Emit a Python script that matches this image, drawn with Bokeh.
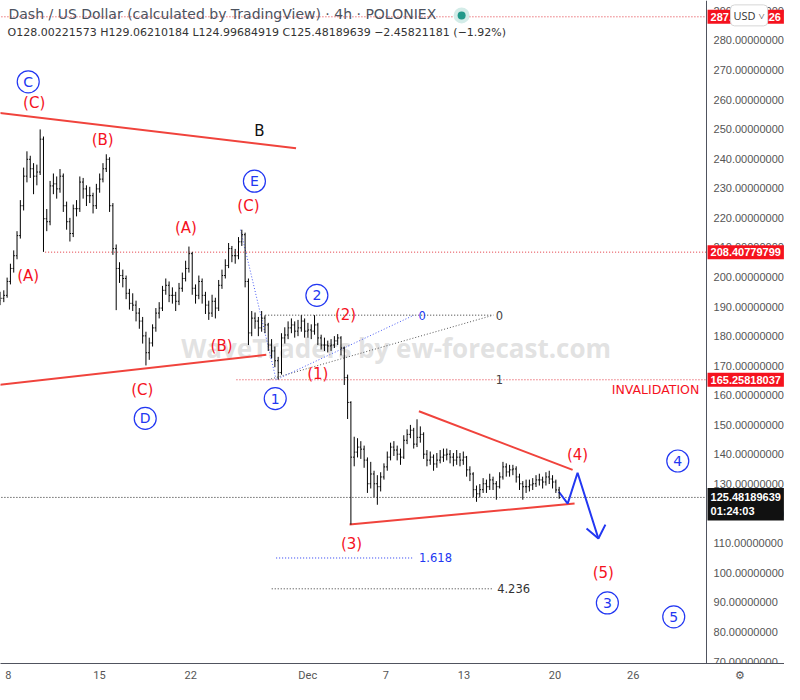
from bokeh.plotting import figure
from bokeh.models import Range1d, FixedTicker, PrintfTickFormatter, Label, ColumnDataSource
from bokeh.embed import file_html
from bokeh.resources import INLINE

# ---------------- data (DASH/USD, 4h, Poloniex) ----------------
first_open = 192.0
closes = [192.8, 193.8, 198.5, 202.9, 207.2, 214.0, 224.1, 234.1, 239.8, 236.6,
          234.1, 235.5, 246.6, 219.7, 218.7, 230.8, 231.5, 229.8, 234.1, 224.1,
          218.7, 214.7, 223.1, 223.1, 232.1, 229.8, 227.5, 227.5, 224.1, 229.8,
          233.1, 236.6, 239.8, 224.1, 209.6, 202.9, 200.5, 199.5, 194.5, 191.1,
          190.5, 187.8, 185.1, 180.1, 174.4, 177.7, 182.8, 187.8, 189.5, 195.5,
          197.2, 193.8, 193.8, 191.8, 196.2, 199.5, 202.9, 207.9, 196.2, 193.8,
          198.5, 193.8, 190.5, 187.8, 191.8, 189.5, 197.2, 200.5, 203.9, 209.6,
          207.2, 207.2, 211.9, 214.3, 198.5, 181.1, 186.1, 185.1, 182.8, 186.1,
          183.8, 177.0, 175.0, 171.7, 167.7, 179.4, 180.4, 182.8, 183.8, 181.7,
          182.8, 185.1, 181.7, 182.1, 181.7, 183.8, 179.4, 177.0, 177.0, 176.7,
          177.0, 178.4, 179.4, 176.0, 166.0, 157.6, 139.1, 140.8, 142.5, 141.8,
          138.1, 130.1, 133.4, 130.1, 129.1, 132.4, 135.8, 139.1, 142.5, 141.5,
          140.1, 139.1, 144.8, 146.8, 148.2, 143.5, 145.8, 146.8, 140.1, 138.1,
          139.1, 136.8, 138.1, 139.1, 139.8, 140.1, 139.1, 138.1, 139.1, 138.1,
          139.1, 134.8, 133.4, 128.1, 126.7, 128.1, 130.1, 129.1, 131.4, 130.1,
          129.1, 132.4, 135.8, 134.1, 134.8, 135.1, 132.4, 130.1, 129.1, 129.1,
          129.7, 130.1, 131.4, 131.4, 130.7, 132.4, 131.7, 130.7, 128.00221573, 125.48189639]
highs = [195.0, 195.5, 199.8, 204.5, 209.0, 215.5, 226.0, 237.0, 242.5, 241.0,
         238.5, 238.0, 249.9, 247.5, 223.0, 232.5, 235.0, 234.0, 236.5, 235.0,
         225.5, 220.0, 224.5, 226.0, 234.0, 233.5, 231.0, 230.5, 228.5, 231.5,
         235.0, 238.5, 241.5, 240.5, 225.0, 211.0, 205.0, 202.5, 200.5, 196.0,
         194.5, 192.0, 189.5, 186.5, 181.5, 179.5, 184.0, 189.5, 191.5, 197.0,
         199.5, 198.5, 196.5, 195.0, 198.0, 201.5, 205.5, 210.3, 208.5, 197.5,
         200.5, 199.5, 195.0, 192.0, 194.0, 193.0, 199.0, 202.5, 206.0, 211.5,
         210.5, 209.5, 213.5, 216.0, 215.0, 199.5, 188.5, 188.0, 186.5, 188.5,
         187.0, 184.5, 179.0, 176.5, 173.0, 181.0, 183.0, 185.0, 186.0, 185.0,
         185.5, 187.1, 186.0, 184.5, 184.0, 187.1, 184.5, 180.5, 179.5, 178.5,
         179.0, 180.0, 180.7, 180.0, 176.5, 167.0, 158.0, 146.0, 145.5, 144.5,
         143.0, 139.0, 137.5, 134.5, 133.0, 134.0, 137.0, 141.0, 144.0, 144.5,
         143.0, 142.0, 146.5, 148.5, 150.0, 149.0, 151.9, 149.5, 147.5, 141.5,
         141.0, 140.0, 140.5, 141.5, 142.0, 142.0, 141.5, 140.5, 141.5, 140.5,
         141.0, 139.5, 136.0, 134.0, 129.5, 130.0, 132.0, 131.5, 133.5, 132.5,
         131.0, 134.0, 137.5, 137.0, 136.5, 136.5, 136.0, 133.5, 131.0, 131.5,
         131.5, 132.0, 133.0, 133.5, 132.5, 134.0, 134.5, 133.0, 131.5, 129.06210184]
lows = [190.5, 191.5, 193.0, 197.5, 201.5, 206.0, 213.0, 222.5, 232.0, 233.5,
        228.0, 231.0, 234.5, 208.5, 215.5, 217.5, 228.0, 226.5, 228.5, 222.0,
        216.0, 212.0, 213.5, 220.5, 222.0, 226.5, 224.0, 225.0, 221.5, 223.0,
        228.5, 232.0, 235.5, 222.0, 207.5, 188.8, 198.0, 196.5, 192.5, 189.0,
        188.5, 185.0, 182.5, 177.5, 170.1, 172.0, 176.5, 181.5, 186.0, 188.5,
        194.0, 191.5, 191.0, 188.5, 190.5, 195.0, 198.5, 201.5, 194.0, 191.0,
        192.5, 191.0, 187.5, 185.5, 186.5, 186.0, 188.5, 196.0, 199.5, 203.0,
        205.0, 204.5, 206.0, 210.5, 196.5, 177.0, 180.0, 182.5, 180.0, 181.5,
        181.0, 175.0, 172.5, 169.5, 165.3, 167.0, 177.5, 179.0, 181.0, 179.5,
        180.0, 181.5, 179.5, 179.5, 179.0, 180.5, 177.0, 175.5, 175.0, 174.5,
        175.0, 176.0, 177.0, 173.5, 163.5, 152.0, 116.3, 136.0, 139.0, 138.5,
        135.5, 127.0, 128.5, 125.5, 123.0, 127.5, 131.5, 134.5, 138.0, 139.5,
        138.0, 136.5, 138.5, 143.5, 145.5, 142.0, 142.5, 144.0, 138.5, 136.0,
        136.5, 134.5, 135.5, 137.0, 137.5, 138.0, 137.0, 136.0, 136.5, 136.0,
        136.5, 132.5, 131.0, 125.5, 124.0, 125.5, 127.0, 127.0, 128.0, 128.0,
        124.7, 128.5, 131.5, 132.5, 132.5, 133.0, 130.5, 128.0, 124.7, 127.0,
        127.5, 128.0, 129.0, 129.5, 128.5, 129.5, 130.0, 128.5, 127.0, 124.99684919]

bar_start_day = 7.39     # day-of-November of first bar
bar_step_day = 0.254     # bar spacing in days

price_ticks = [70, 80, 90, 100, 110, 120, 130, 140, 150, 160, 170, 180, 190,
               200, 210, 220, 230, 240, 250, 260, 270, 280, 290]
date_ticks = [8, 15, 22, 31, 37, 43, 50, 56]
date_labels = ["8", "15", "22", "Dec", "7", "13", "20", "26"]

top_level = 287.98
level_208 = 208.40779799
invalidation = 165.25818037
last_price = 125.48189639

# wave pivots used by the fibonacci tools
wave_E_high = 216.0
wave_1_low = 165.26
wave_2_high = 187.1

# ---------------- layout constants ----------------
X0, X1 = 7.39, 67.63        # visible days (incl. price-scale column)
SCALE_X = 61.64             # day where price scale starts
GEAR_X = 64.2
Y0, Y1 = 69.33, 293.49

# ---------------- build ----------------
opens = [first_open] + closes[:-1]
xs = [bar_start_day + i * bar_step_day for i in range(len(closes))]
tw = 0.09
src = ColumnDataSource(dict(x=xs, o=opens, h=highs, l=lows, c=closes,
                            xl=[x - tw for x in xs], xr=[x + tw for x in xs]))

RED_T = "#f5121e"
RED_L = "#f0433c"
BLUE = "#2237f2"
FONT = "DejaVu Sans"

p = figure(width=784, height=684, output_backend="svg", toolbar_location=None,
           x_range=Range1d(X0, X1), y_range=Range1d(Y0, Y1),
           y_axis_location="right", min_border=0)
p.outline_line_color = None
p.xgrid.visible = False
p.ygrid.visible = False
p.background_fill_color = "white"

xa = p.xaxis[0]
xa.ticker = FixedTicker(ticks=date_ticks + [GEAR_X])
overrides = {t: s for t, s in zip(date_ticks, date_labels)}
overrides[GEAR_X] = "\u2699"
xa.major_label_overrides = overrides
xa.major_tick_out = 0
xa.major_tick_in = 0
xa.minor_tick_out = 0
xa.minor_tick_in = 0
xa.axis_line_color = "#50535e"
xa.major_label_text_font = "Roboto"
xa.major_label_text_font_size = "11px"
xa.major_label_text_color = "#555555"
xa.major_label_standoff = 5

ya = p.yaxis[0]
ya.fixed_location = SCALE_X
ya.ticker = FixedTicker(ticks=price_ticks)
ya.formatter = PrintfTickFormatter(format="%.8f")
ya.major_tick_out = 0
ya.major_tick_in = 0
ya.minor_tick_out = 0
ya.minor_tick_in = 0
ya.axis_line_color = "#50535e"
ya.major_label_text_font = "Liberation Sans"
ya.major_label_text_font_size = "11px"
ya.major_label_text_color = "#555555"
ya.major_label_text_align = "left"
ya.major_label_standoff = 7

# watermark
p.add_layout(Label(x=37.79, y=176.0, text="WaveTraders by ew-forecast.com",
                   text_font="Open Sans", text_font_style="bold", text_font_size="26px",
                   text_color="#dadada", text_alpha=0.8, text_align="center",
                   text_baseline="middle", level="underlay"))

# horizontal dotted levels
p.line([7.0, SCALE_X], [top_level, top_level], line_color="#e0303a", line_dash="1 2", line_width=1)
p.line([10.82, SCALE_X], [level_208, level_208], line_color="#e0303a", line_dash="1 2", line_width=1)
p.line([25.52, SCALE_X], [invalidation, invalidation], line_color="#e0303a", line_dash="1 2", line_width=1)
p.line([7.0, SCALE_X], [last_price, last_price], line_color="#222222", line_dash="1 2", line_width=1)

# fib tools
gray_x0, gray_x1 = 27.73, 45.26
blue_x0, blue_x1 = 28.57, 39.16
swing = wave_E_high - wave_1_low
sub = wave_2_high - wave_1_low
p.line([gray_x0, gray_x1], [wave_2_high, wave_2_high], line_color="#333333", line_dash="1 2")
p.line([gray_x0 + 0.5, gray_x1], [wave_2_high - 4.236 * sub] * 2, line_color="#333333", line_dash="1 2")
p.line([27.96, gray_x1], [wave_1_low, wave_2_high], line_color="#555555", line_dash="1 2")
p.line([blue_x0, blue_x1], [wave_2_high - 1.618 * swing] * 2, line_color=BLUE, line_dash="1 2")
p.line([25.83, blue_x0, blue_x1], [wave_E_high, wave_1_low, wave_2_high], line_color="#4a5cf5", line_dash="1 2")
for x, y, t, col in [(45.45, wave_2_high, "0", "#444444"),
                     (45.45, wave_1_low, "1", "#444444"),
                     (39.50, wave_2_high, "0", BLUE),
                     (39.55, wave_2_high - 1.618 * swing, "1.618", BLUE),
                     (45.55, wave_2_high - 4.236 * sub, "4.236", "#333333")]:
    p.add_layout(Label(x=x, y=y, text=t, text_font=FONT, text_font_size="11.5px",
                       text_color=col, text_baseline="middle", text_align="left"))

# trendlines
p.line([7.0, 30.10], [255.6, 243.5], line_color=RED_L, line_width=2)
p.line([7.0, 27.81], [163.4, 173.7], line_color=RED_L, line_width=2)
p.line([39.54, 51.35], [154.6, 134.8], line_color=RED_L, line_width=2)
p.line([34.21, 51.50], [116.3, 123.4], line_color=RED_L, line_width=2)

# projected path
p.line([50.29, 50.97, 51.73, 53.33], [127.4, 123.4, 133.8, 111.6], line_color=BLUE, line_width=2)
p.line([52.42, 53.33, 53.87], [115.0, 111.6, 116.3], line_color=BLUE, line_width=2)

# OHLC bars
p.segment("x", "l", "x", "h", source=src, line_color="black", line_width=1)
p.segment("xl", "o", "x", "o", source=src, line_color="black", line_width=1)
p.segment("x", "c", "xr", "c", source=src, line_color="black", line_width=1)

# wave labels (red)
for x, y, t in [(9.98, 258.9, "(C)"), (15.24, 246.2, "(B)"), (9.52, 200.2, "(A)"),
                (21.64, 216.6, "(A)"), (26.44, 224.0, "(C)"), (24.38, 176.7, "(B)"),
                (18.29, 161.9, "(C)"), (31.77, 167.3, "(1)"), (33.90, 187.1, "(2)"),
                (34.36, 109.6, "(3)"), (51.73, 139.8, "(4)"), (53.71, 99.9, "(5)")]:
    p.add_layout(Label(x=x, y=y, text=t, text_font=FONT, text_font_size="15px",
                       text_color=RED_T, text_align="center", text_baseline="middle"))
p.add_layout(Label(x=27.28, y=249.5, text="B", text_font=FONT, text_font_size="15px",
                   text_color="#111111", text_align="center", text_baseline="middle"))
p.add_layout(Label(x=57.72, y=161.9, text="INVALIDATION", text_font=FONT, text_font_size="12.5px",
                   text_color=RED_T, text_align="center", text_baseline="middle"))

# circled labels (blue)
circ = [(9.52, 266.0, "C"), (26.90, 232.4, "E"), (18.51, 152.2, "D"), (28.50, 158.9, "1"),
        (31.70, 193.8, "2"), (54.02, 89.8, "3"), (59.43, 137.8, "4"), (59.12, 85.1, "5")]
p.scatter([c[0] for c in circ], [c[1] for c in circ], marker="circle", size=22,
          fill_color="white", line_color=BLUE, line_width=1.2)
for x, y, t in circ:
    p.add_layout(Label(x=x, y=y, text=t, text_font=FONT, text_font_size="14px",
                       text_color=BLUE, text_align="center", text_baseline="middle"))

# header
p.add_layout(Label(x=X0, y=288.79, x_offset=8,
                   text="Dash / US Dollar (calculated by TradingView) \u00b7 4h \u00b7 POLONIEX",
                   text_font=FONT, text_font_size="14px", text_color="#4c525e",
                   text_baseline="middle"))
p.add_layout(Label(x=X0, y=282.75, x_offset=7,
                   text="O128.00221573 H129.06210184 L124.99684919 C125.48189639 \u22122.45821181 (\u22121.92%)",
                   text_font=FONT, text_font_size="11px", text_color="#333333",
                   text_baseline="middle"))
p.scatter([42.82], [288.46], marker="circle", size=16, fill_color="#d3ece8", line_color=None)
p.scatter([42.82], [288.46], marker="circle", size=8, fill_color="#22998a", line_color=None)

# price-scale labels
def tag(y, text, bg, fg="white"):
    p.add_layout(Label(x=SCALE_X, y=y, x_offset=1, text=text, text_font="Liberation Sans",
                       text_font_style="bold", text_font_size="11px", text_color=fg,
                       background_fill_color=bg, text_baseline="middle", text_align="left",
                       padding=3))

tag(top_level, "287.89140226", "#f5121e")
tag(level_208, "208.40779799", "#f5121e")
tag(invalidation, "165.25818037", "#f5121e")
tag(last_price - 2.3, "125.48189639\n01:24:03", "#111111")
p.add_layout(Label(x=SCALE_X, y=288.46, x_offset=24, text="USD \u02c5", text_font="Open Sans",
                   text_font_size="11px", text_color="#333333", background_fill_color="white",
                   border_line_color="#d6d6d6", border_radius=4, padding=3,
                   text_baseline="middle", text_align="left"))

open("out.html", "w").write(file_html(p, INLINE))
